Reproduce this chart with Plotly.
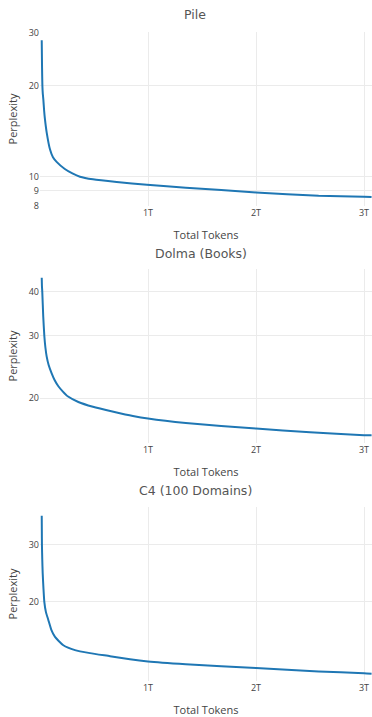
import plotly.graph_objects as go

# Values (tokens in trillions)
pile_tokens = [0.016, 0.019, 0.022, 0.026, 0.031, 0.038, 0.045, 0.062, 0.093, 0.12, 0.154, 0.23, 0.30, 0.37, 0.49, 0.71, 0.99, 1.35, 2.0, 2.58, 3.0, 3.07]
pile_ppl = [28.3, 23.0, 20.0, 18.8, 18.0, 16.6, 15.6, 14.0, 12.3, 11.6, 11.2, 10.6, 10.25, 10.0, 9.8, 9.6, 9.4, 9.2, 8.87, 8.65, 8.58, 8.56]

dolma_tokens = [0.016, 0.018, 0.021, 0.03, 0.04, 0.05, 0.062, 0.08, 0.108, 0.135, 0.17, 0.21, 0.26, 0.355, 0.49, 0.68, 0.86, 1.0, 1.35, 2.0, 2.5, 3.0, 3.07]
dolma_ppl = [43.8, 41.5, 40.0, 34.0, 30.0, 27.8, 26.2, 24.8, 23.5, 22.5, 21.6, 20.9, 20.2, 19.5, 18.9, 18.3, 17.8, 17.5, 17.0, 16.4, 16.0, 15.7, 15.7]

c4_tokens = [0.016, 0.017, 0.018, 0.021, 0.025, 0.032, 0.04, 0.055, 0.077, 0.105, 0.139, 0.216, 0.324, 0.463, 0.648, 0.833, 1.0, 1.35, 2.0, 2.58, 3.0, 3.07]
c4_ppl = [36.9, 33.0, 30.0, 27.0, 24.5, 22.0, 20.0, 18.6, 17.6, 16.4, 15.6, 14.7, 14.2, 13.9, 13.6, 13.3, 13.1, 12.85, 12.5, 12.2, 12.05, 12.0]

titles = ["Pile", "Dolma (Books)", "C4 (100 Domains)"]
x_tickvals = [1, 2, 3]
x_ticktext = ["1T", "2T", "3T"]
pile_yticks = [8, 9, 10, 20, 30]
dolma_yticks = [20, 30, 40]
c4_yticks = [20, 30]

series = [
    (pile_tokens, pile_ppl, pile_yticks, [0.903, 1.479]),
    (dolma_tokens, dolma_ppl, dolma_yticks, [1.174, 1.666]),
    (c4_tokens, c4_ppl, c4_yticks, [1.057, 1.594]),
]

W, H = 372, 717
mt, mb = 32, 36
ph = H - mt - mb
areas = [(32, 206), (269, 443), (507, 681)]
title_pos = [(195, 14), (201, 253), (195, 490)]

fig = go.Figure()
layout = dict(
    width=W, height=H,
    margin=dict(l=40, r=0, t=mt, b=mb, autoexpand=False),
    paper_bgcolor="white", plot_bgcolor="white",
    showlegend=False,
    font=dict(family="Open Sans, verdana, arial, sans-serif", color="#444"),
)
annotations = []
for i, ((xs, ys, yt, yr), (top, bot)) in enumerate(zip(series, areas)):
    n = "" if i == 0 else str(i + 1)
    fig.add_trace(go.Scatter(
        x=xs, y=ys, mode="lines",
        line=dict(color="#1f77b4", width=2, shape="spline", smoothing=0.5),
        xaxis="x" + n, yaxis="y" + n,
    ))
    d0 = (H - mb - bot) / ph
    d1 = (H - mb - top) / ph
    layout["xaxis" + n] = dict(
        domain=[0, 1], anchor="y" + n, range=[0, 3.074],
        tickvals=x_tickvals, ticktext=x_ticktext,
        showgrid=True, gridcolor="#ebebeb", zeroline=False, showline=False,
        automargin=False,
        tickfont=dict(size=9, color="#444"),
        title=dict(text="Total Tokens", font=dict(size=11, color="#444"), standoff=13),
    )
    layout["yaxis" + n] = dict(
        domain=[d0, d1], anchor="x" + n, type="log", range=yr,
        tickvals=yt, ticktext=[str(v) for v in yt],
        showgrid=True, gridcolor="#ebebeb", zeroline=False, showline=False,
        automargin=False,
        tickfont=dict(size=9, color="#444"),
        title=dict(text="Perplexity", font=dict(size=11, color="#444"), standoff=8),
    )
    tx, ty = title_pos[i]
    annotations.append(dict(
        text=titles[i], xref="paper", yref="paper",
        x=(tx - 40) / (W - 40), y=(H - mb - ty) / ph,
        xanchor="center", yanchor="middle", showarrow=False,
        font=dict(family="DejaVu Sans, Verdana, sans-serif", size=12.5, color="#555"),
    ))
layout["annotations"] = annotations
fig.update_layout(**layout)
fig.write_html(
    "out.html",
    config={"displayModeBar": False},
    post_script="document.body.style.margin='0';document.body.style.padding='0';",
)
